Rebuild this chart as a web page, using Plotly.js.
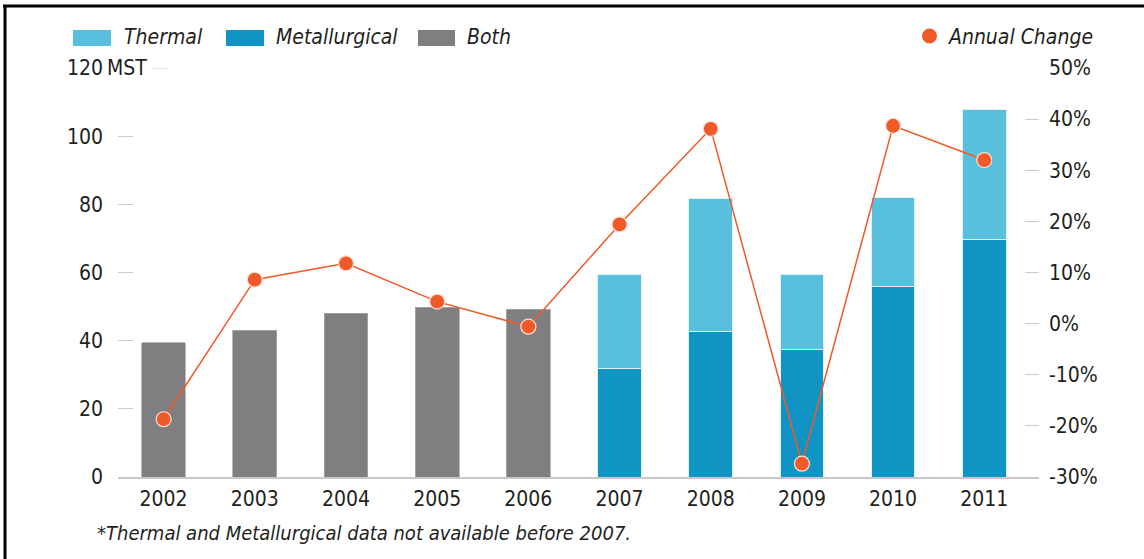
<!DOCTYPE html>
<html>
<head>
<meta charset="utf-8">
<script src="https://cdn.plot.ly/plotly-3.0.1.min.js"></script>
<style>
html,body{margin:0;padding:0;background:#fff;}
#chart{width:1144px;height:559px;}
</style>
</head>
<body>
<div id="chart"></div>
<script>
// Data
const years = ['2002','2003','2004','2005','2006','2007','2008','2009','2010','2011'];
const both = [39.4, 43.0, 48.0, 49.8, 49.2, null, null, null, null, null];
const metallurgical = [null, null, null, null, null, 31.9, 42.8, 37.5, 55.9, 69.8];
const thermal = [null, null, null, null, null, 27.4, 38.8, 21.8, 26.0, 38.0];
const annualChange = [-18.7, 8.6, 11.8, 4.3, -0.6, 19.4, 38.1, -27.4, 38.7, 32.0];
const leftTicks = [0, 20, 40, 60, 80, 100, 120];
const leftTickText = ['0', '20', '40', '60', '80', '100', '120'];
const leftUnit = 'MST';
const rightTicks = [-30, -20, -10, 0, 10, 20, 30, 40, 50];
const rightTickText = ['-30%', '-20%', '-10%', '0%', '10%', '20%', '30%', '40%', '50%'];
const legendNames = ['Thermal', 'Metallurgical', 'Both', 'Annual Change'];
const footnote = '*Thermal and Metallurgical data not available before 2007.';

const FONT = 'Liberation Sans Narrow, DejaVu Sans Condensed, Arial Narrow, sans-serif';
const TXT = '#231f20';
const C_THERM = '#58bfdc', C_MET = '#1094c4', C_BOTH = '#7f7f82', C_CHG = '#f05a28';

const traces = [
  {type:'bar', name:legendNames[1], x:years, y:metallurgical, marker:{color:C_MET, line:{color:'#dff2f9', width:1}}, showlegend:false},
  {type:'bar', name:legendNames[0], x:years, y:thermal, marker:{color:C_THERM, line:{color:'#dff2f9', width:1}}, showlegend:false},
  {type:'bar', name:legendNames[2], x:years, y:both, marker:{color:C_BOTH, line:{color:'#a9a9ab', width:0.8}}, showlegend:false},
  {type:'scatter', mode:'lines+markers', name:legendNames[3], x:years, y:annualChange, yaxis:'y2',
   line:{color:C_CHG, width:1.5}, marker:{color:C_CHG, size:15, line:{color:'#fbe0d6', width:1.2}}, showlegend:false}
];

const W = 1144, H = 559, L = 118, R = 1039, T = 68, B = 477;
const px = v => (v - L) / (R - L);
const py = v => (B - v) / (B - T);

const legendFont = {family:FONT, size:21, color:TXT, style:'italic'};
const swatches = [
  {x0:73, x1:111, c:C_THERM, tx:122, label:legendNames[0]},
  {x0:226, x1:264, c:C_MET, tx:274, label:legendNames[1]},
  {x0:418, x1:455, c:C_BOTH, tx:465, label:legendNames[2]}
];

const shapes = [
  {type:'line', xref:'paper', yref:'paper', x0:px(3), x1:px(1144), y0:py(6), y1:py(6), line:{color:'#000', width:3}},
  {type:'line', xref:'paper', yref:'paper', x0:px(5), x1:px(5), y0:py(5), y1:py(560), line:{color:'#000', width:3}},
  {type:'line', xref:'paper', yref:'y', x0:px(153), x1:px(167), y0:120, y1:120, line:{color:'#cccccc', width:1}},
  {type:'circle', xref:'paper', yref:'paper', x0:px(922), x1:px(937), y0:py(43.5), y1:py(28.5), fillcolor:C_CHG, line:{width:0}}
];
const annotations = [
  {text:footnote, xref:'paper', yref:'paper', x:px(95), y:py(533), xanchor:'left', yanchor:'middle', showarrow:false,
   font:{family:FONT, size:20, color:TXT, style:'italic'}},
  {text:leftUnit, xref:'paper', yref:'y', x:px(104), y:120, xanchor:'left', yanchor:'middle', showarrow:false,
   bgcolor:'#ffffff', borderpad:2, font:{family:FONT, size:21, color:TXT}},
  {text:legendNames[3], xref:'paper', yref:'paper', x:px(946), y:py(37), xanchor:'left', yanchor:'middle', showarrow:false, font:legendFont}
];
swatches.forEach(s => {
  shapes.push({type:'rect', xref:'paper', yref:'paper', x0:px(s.x0), x1:px(s.x1), y0:py(46), y1:py(30), fillcolor:s.c, line:{width:0}});
  annotations.push({text:s.label, xref:'paper', yref:'paper', x:px(s.tx), y:py(37), xanchor:'left', yanchor:'middle', showarrow:false, font:legendFont});
});

const layout = {
  width: W, height: H,
  margin:{l:L, r:W-R, t:T, b:H-B, pad:0},
  paper_bgcolor:'#fff', plot_bgcolor:'#fff',
  barmode:'stack', bargap:0.52,
  font:{family:FONT, size:21, color:TXT},
  showlegend:false,
  xaxis:{type:'category', range:[-0.5, 9.6], showgrid:false, zeroline:false, showline:true, linecolor:'#c8c8c8', linewidth:2,
         ticks:'', tickfont:{family:FONT, size:21, color:TXT}, ticklabelstandoff:2, fixedrange:true},
  yaxis:{range:[0,120], tickvals:leftTicks, ticktext:leftTickText, showgrid:false, zeroline:false, showline:false,
         ticks:'inside', ticklen:15, tickwidth:1, tickcolor:'#cccccc', ticklabelstandoff:14,
         tickfont:{family:FONT, size:21, color:TXT}},
  yaxis2:{range:[-30,50], tickvals:rightTicks, ticktext:rightTickText, overlaying:'y', side:'right', showgrid:false,
          zeroline:false, showline:false, ticks:'inside', ticklen:14, tickwidth:1, tickcolor:'#cccccc', ticklabelstandoff:9,
          tickfont:{family:FONT, size:21, color:TXT}},
  shapes: shapes,
  annotations: annotations
};

Plotly.newPlot('chart', traces, layout, {displayModeBar:false, staticPlot:true});
</script>
</body>
</html>
